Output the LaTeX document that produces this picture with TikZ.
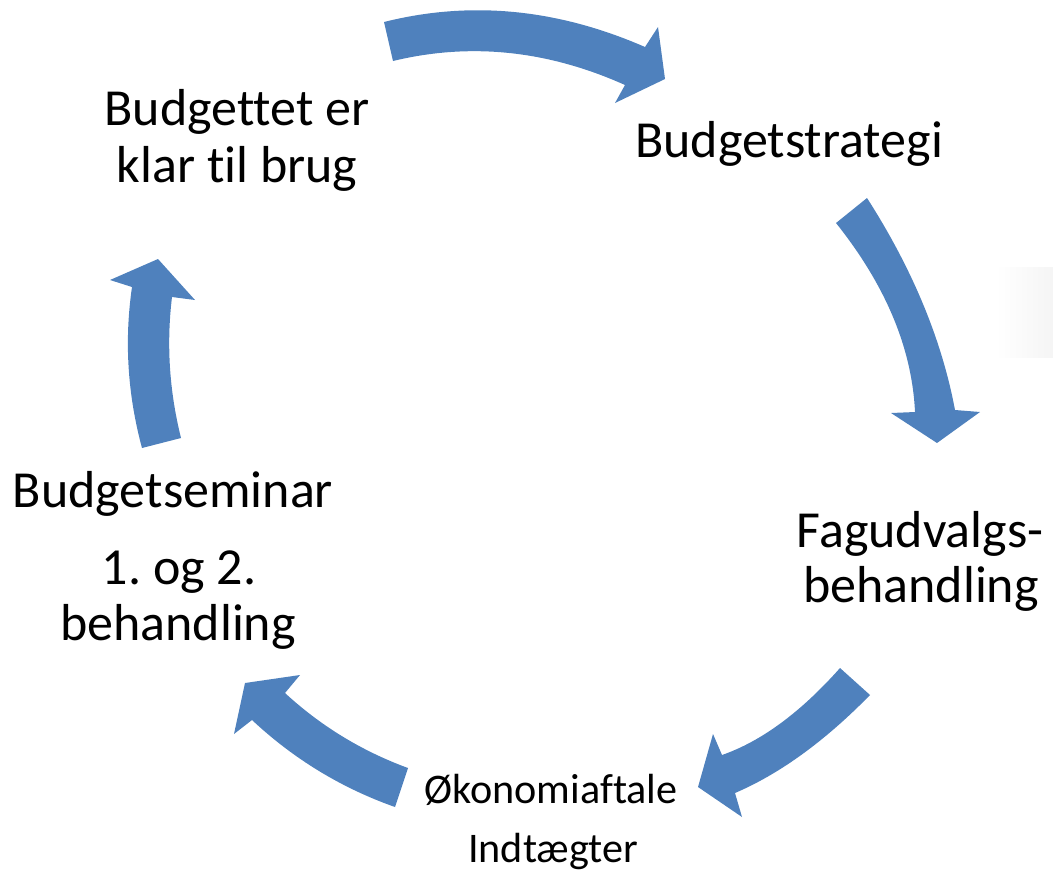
\documentclass[tikz,border=0pt]{standalone}
\usepackage{fontspec}
\setmainfont{Carlito}[Ligatures=NoCommon]
\usepackage{tikz}
\frenchspacing

\definecolor{cycleblue}{RGB}{79,129,189}

\begin{document}
\begin{tikzpicture}[x=0.02cm,y=-0.02cm,
  cyclearrow/.style={fill=cycleblue},
  bigtxt/.style={anchor=base,inner sep=0pt,font=\fontsize{29.6}{34}\selectfont},
  smalltxt/.style={anchor=base,inner sep=0pt,font=\fontsize{24}{28}\selectfont}]
\useasboundingbox (0,0) rectangle (1053,876);
\shade[left color=white,right color=black!4] (996,267) rectangle (1053,357);
\fill[cyclearrow] (384,22) .. controls (470.3,0.3) and (557.3,8.7) .. (645,47) -- (658,27) -- (665,79) -- (615,103) -- (625,85) .. controls (547.7,50.3) and (470.3,42.3) .. (393,61) -- cycle;
\fill[cyclearrow] (867,198) .. controls (912.3,268.7) and (941.7,339.3) .. (955,410) -- (980,412) -- (937,443) -- (891,413) -- (915,412) .. controls (912,348.3) and (885.7,285.3) .. (836,223) -- cycle;
\fill[cyclearrow] (870,695) .. controls (825,741) and (780,773.7) .. (735,793) -- (742,817) -- (698,787) -- (713,734) -- (722,755) .. controls (761.3,741.3) and (800.7,712.3) .. (840,668) -- cycle;
\fill[cyclearrow] (395,807) .. controls (341.3,788) and (293.7,759) .. (252,720) -- (234,734) -- (245,683) -- (300,675) -- (285,693) .. controls (320.9,726.1) and (361.9,751.1) .. (408,768) -- cycle;
\fill[cyclearrow] (142,448) .. controls (127.5,394.3) and (124.2,340.7) .. (132,287) -- (110,280) -- (158,259) -- (195,300) -- (172,297) .. controls (166.3,344) and (169.3,391) .. (181,438) -- cycle;
\node[bigtxt] (klarA) at (237,125) {Budgettet er};
\node[bigtxt] (klarB) at (237,182) {klar til brug};
\node[bigtxt] (strat) at (789,157) {Budgetstrategi};
\node[bigtxt] (fagA) at (920,547) {Fagudvalgs-};
\node[bigtxt] (fagB) at (921,602) {behandling};
\node[smalltxt] (oekA) at (551,803) {Økonomiaftale};
\node[smalltxt] (oekB) at (553,862) {Indtægter};
\node[bigtxt] (semA) at (173,507) {Budgetseminar};
\node[bigtxt] (semB) at (179,584) {1. og 2.};
\node[bigtxt] (semC) at (178,640) {behandling};
\end{tikzpicture}
\end{document}
